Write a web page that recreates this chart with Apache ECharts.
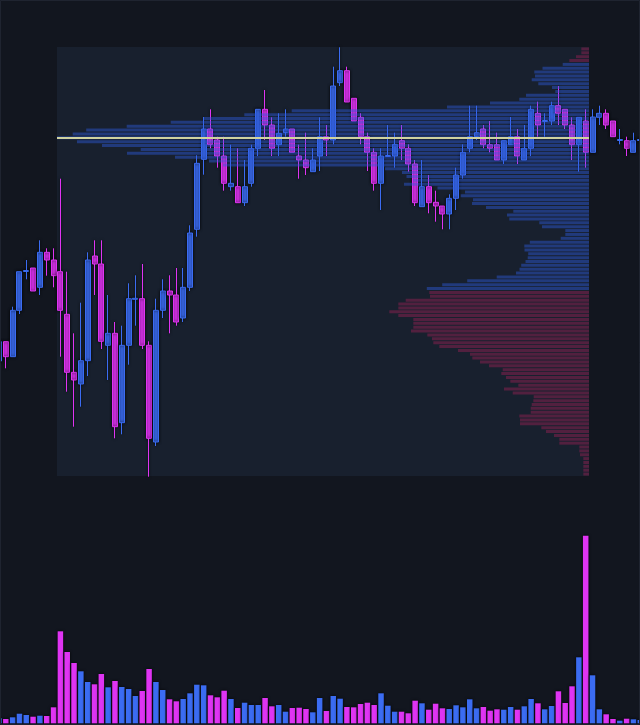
<!DOCTYPE html>
<html><head><meta charset="utf-8">
<style>html,body{margin:0;padding:0;background:#12161f;}#c{width:640px;height:725px;}</style>
<script src="https://cdn.jsdelivr.net/npm/echarts/dist/echarts.min.js"></script>
</head><body><div id="c"></div><script>
// candle data (index 0..94)
const opens  = [111.9,113.83,112.33,116.97,120.85,121.2,119.27,122.77,122.0,120.83,116.57,110.77,109.6,111.93,122.4,121.6,113.47,114.67,105.73,113.47,118.07,118.13,113.47,103.8,116.97,118.9,118.5,116.2,119.27,125.07,132.07,135.1,134.0,132.4,129.33,129.33,127.73,129.67,133.17,137.07,135.5,133.53,134.73,135.1,132.4,132.0,130.83,132.4,134.33,134.0,139.73,140.93,138.17,136.27,134.33,132.77,129.67,132.35,132.4,133.93,133.17,131.6,127.33,129.33,127.77,127.4,126.6,128.17,130.5,133.17,134.33,135.1,133.53,133.53,132.0,133.53,134.33,132.0,133.17,136.67,135.85,135.9,137.43,137.07,135.5,133.53,135.9,132.77,136.27,136.67,135.9,133.95,133.93,132.77,133.95];
const closes = [113.83,112.33,116.97,120.83,120.95,118.9,122.77,122.0,120.43,116.97,110.77,110.0,111.93,122.0,121.6,113.87,114.67,105.33,113.47,118.13,118.17,113.47,104.17,116.97,118.9,118.5,115.8,119.27,124.7,131.67,135.1,133.53,132.4,129.67,129.67,127.73,129.33,133.17,137.07,135.5,133.17,134.67,135.1,132.77,132.0,131.23,132.0,134.33,134.0,139.4,140.93,137.8,135.9,134.33,132.77,129.67,132.4,132.45,133.57,133.17,131.6,127.73,129.33,127.73,127.4,126.6,128.17,130.5,132.77,134.33,134.73,133.53,133.17,132.0,133.93,134.33,132.4,133.17,137.07,135.5,135.95,137.43,136.67,135.5,133.53,136.27,132.77,136.3,136.67,135.5,134.33,134.05,133.17,133.93,134.05];
const lows   = [111.7,111.17,112.33,116.6,120.07,118.9,118.5,120.43,119.27,112.33,108.83,105.33,107.33,110.4,118.5,113.1,110.0,104.17,104.57,111.53,115.43,113.1,100.33,103.4,116.2,114.67,115.43,115.8,118.9,124.33,130.53,133.17,131.23,128.93,128.93,127.73,127.4,129.33,132.4,134.0,132.4,132.4,134.33,132.77,130.13,130.5,130.83,130.9,132.4,133.57,139.4,137.8,135.9,133.57,130.9,128.93,127.0,132.3,131.23,132.0,130.83,127.4,127.33,126.67,125.83,125.07,125.07,127.0,130.13,132.77,134.0,133.17,132.77,132.0,131.6,133.53,131.6,132.0,132.4,134.33,134.33,135.5,135.5,135.1,132.0,130.83,131.23,132.77,135.5,135.1,134.33,133.57,132.4,132.77,133.6];
const highs  = [114.0,113.83,117.33,120.83,122.0,121.2,123.97,123.17,123.17,130.13,120.83,114.67,117.73,122.77,123.97,123.97,118.5,115.8,115.43,119.67,120.47,121.6,113.87,118.13,120.07,120.47,121.2,121.2,125.47,132.47,136.3,137.07,134.33,134.33,133.53,133.17,132.0,133.53,137.07,139.0,136.27,136.67,137.07,135.1,133.53,134.73,133.17,136.27,135.5,141.33,143.27,141.33,138.17,136.67,134.73,133.17,133.17,135.5,134.73,135.5,133.57,132.0,132.0,130.5,128.93,127.4,128.57,131.23,133.57,137.43,137.43,135.5,135.9,134.73,133.93,136.3,135.1,135.5,137.43,137.83,136.67,137.83,139.4,137.07,136.27,136.27,137.07,137.07,137.43,137.07,135.9,135.1,134.33,134.73,134.4];
const volumes = [50,43,60,96,83,66,76,73,160,920,713,603,520,413,390,493,360,423,363,343,273,323,543,413,333,240,220,243,300,386,380,280,260,326,243,153,206,183,183,253,170,183,116,153,156,143,110,253,123,273,246,163,160,193,206,183,300,176,116,116,100,226,200,136,196,150,143,180,160,240,150,163,126,140,136,163,136,170,243,200,140,173,320,203,370,660,1876,480,140,90,43,26,46,40,33];
// volume profile (bins from top price to bottom price)
const profileStart = 9, profileEnd = 86;
const profileVolumes = [77,77,130,197,263,465,547,540,573,507,370,337,630,697,990,1420,2973,3447,3857,4183,4623,5028,5163,5320,5120,4870,4483,4620,4140,3800,3660,2040,1870,1825,1760,1850,1515,1240,1283,1160,1170,1030,757,820,797,497,470,237,237,283,592,647,645,608,613,635,678,695,730,923,1218,1468,1622,1597,1590,1833,1907,1907,1997,1907,1757,1757,1757,1780,1617,1570,1557,1497,1310,1190,1167,1090,1000,863,877,830,787,707,850,763,553,557,573,583,583,697,690,690,477,430,350,297,297,97,97,90,57,57,57,57,57];
const valueAreaTop = 4, valueAreaBottom = 62;

const UP = '#3b6cf2', DOWN = '#df34f3';
const VA_COLOR = 'rgba(45,92,220,0.45)', OUT_COLOR = 'rgba(140,32,80,0.5)';

const candleData = opens.map((o, i) => [i, o, closes[i], lows[i], highs[i]]);
const volData = volumes.map((v, i) => ({value: [i, v], itemStyle: {color: closes[i] >= opens[i] ? UP : DOWN}}));
const pHigh = Math.max(...highs.slice(profileStart, profileEnd + 1));
const pLow = Math.min(...lows.slice(profileStart, profileEnd + 1));
const nb = profileVolumes.length;
const step = (pHigh - pLow) / nb;
const binNames = profileVolumes.map((v, k) => (pHigh - step * (k + 0.5)).toFixed(2));
const profData = profileVolumes.map((v, k) => ({value: v, itemStyle: {color: (k >= valueAreaTop && k <= valueAreaBottom) ? VA_COLOR : OUT_COLOR}}));
const pocIdx = profileVolumes.indexOf(Math.max(...profileVolumes));

const xMin = 0.1466, xMax = 93.96;
const yMin = 100, yMax = 144;

const chart = echarts.init(document.getElementById('c'), null, {renderer: 'canvas'});
chart.setOption({
  animation: false,
  backgroundColor: '#12161f',
  grid: [
    {left: 0, right: 0, top: 40, height: 440},
    {left: 0, right: 0, top: 523.3, height: 200},
    {left: 57, width: 532, top: 47, height: 429, show: true, backgroundColor: '#18202e', borderWidth: 0}
  ],
  xAxis: [
    {type: 'value', gridIndex: 0, min: xMin, max: xMax, show: false},
    {type: 'value', gridIndex: 1, min: xMin, max: xMax, show: false},
    {type: 'value', gridIndex: 2, min: 0, max: Math.max(...profileVolumes), inverse: true, show: false}
  ],
  yAxis: [
    {type: 'value', gridIndex: 0, min: yMin, max: yMax, show: false},
    {type: 'value', gridIndex: 1, min: 0, max: 2000, show: false},
    {type: 'category', gridIndex: 2, data: binNames, inverse: true, show: false}
  ],
  series: [
    {
      type: 'candlestick', xAxisIndex: 0, yAxisIndex: 0, z: 3,
      data: candleData, encode: {x: 0, y: [1, 2, 3, 4]},
      barWidth: 5.5,
      itemStyle: {color: UP, color0: DOWN, borderColor: UP, borderColor0: DOWN, borderWidth: 1,
        shadowBlur: 3, shadowColor: 'rgba(0,0,0,0.9)'}
    },
    {
      type: 'bar', xAxisIndex: 1, yAxisIndex: 1, data: volData, barWidth: 5.5,
      itemStyle: {shadowBlur: 3, shadowColor: 'rgba(0,0,0,0.9)'}
    },
    {
      type: 'bar', xAxisIndex: 2, yAxisIndex: 2, z: 4, data: profData, barWidth: 3,
      markLine: {
        silent: true, symbol: 'none', label: {show: false},
        lineStyle: {color: '#cfd2a0', width: 2, type: 'solid'},
        data: [{yAxis: binNames[pocIdx]}]
      }
    }
  ],
  graphic: [{type: 'rect', shape: {x: 0.5, y: 0.5, width: 639, height: 724}, style: {fill: null, stroke: '#1f2430', lineWidth: 1}, silent: true, z: 100}]
});
</script></body></html>
